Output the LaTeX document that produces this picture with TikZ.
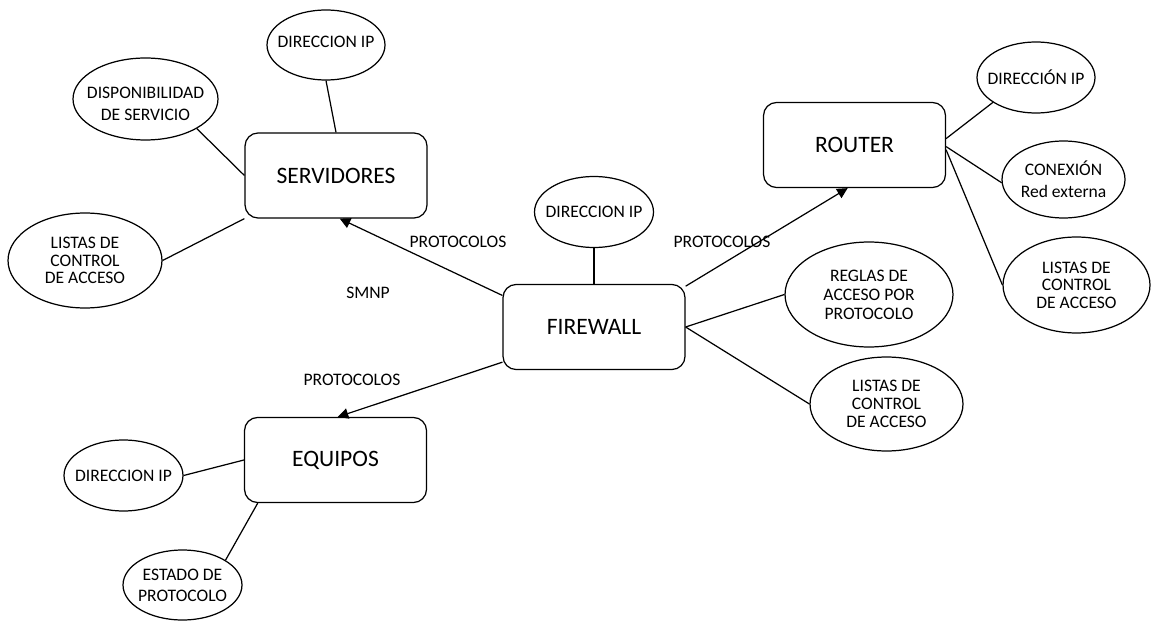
\documentclass[tikz,border=0pt]{standalone}
\usepackage{fontspec}
\setmainfont{Carlito}
\usetikzlibrary{shapes.geometric,arrows.meta}
\begin{document}
\begin{tikzpicture}[x=0.02cm,y=-0.02cm,
  box/.style={draw, rounded corners=0.26cm, minimum width=3.64cm, minimum height=1.70cm,
    font=\fontsize{13.4}{16}\selectfont, line width=0.7pt},
  oval/.style 2 args={draw, ellipse, inner sep=0pt, minimum width=#1, minimum height=#2, line width=0.7pt},
  txt/.style={align=center, font=\fontsize{10}{#1}\selectfont}, txt/.default=10.5,
  link/.style={line width=0.7pt},
  flow/.style={link, -{Triangle[length=6pt,width=6pt]}},
  tag/.style={font=\fontsize{10}{12}\selectfont}
]
\path[fill=white, use as bounding box] (0,0) rectangle (1151,621);

% main devices
\node[box] (srv) at (336,175.5) {SERVIDORES};
\node[box] (rtr) at (854.5,145) {ROUTER};
\node[box] (fw)  at (594,327) {FIREWALL};
\node[box] (eq)  at (335.5,460) {EQUIPOS};

% attributes of the servers
\node[oval={2.36cm}{1.40cm}, label={[txt, yshift=1.7pt]center:DIRECCION IP}] (ipS) at (326,45) {};
\node[oval={2.90cm}{1.64cm}, label={[txt=12.3, yshift=-2.8pt]center:DISPONIBILIDAD\\DE SERVICIO}] (disp) at (145.5,99) {};
\node[oval={3.08cm}{1.90cm}, label={[txt=10]center:LISTAS DE\\CONTROL\\DE ACCESO}] (aclS) at (85,260.5) {};

% attributes of the router
\node[oval={2.36cm}{1.42cm}, label={[txt]center:DIRECCIÓN IP}] (ipR) at (1036,77.5) {};
\node[oval={2.46cm}{1.54cm}, label={[txt=12.4]center:CONEXIÓN\\Red externa}] (conx) at (1063.5,179.5) {};
\node[oval={2.94cm}{1.92cm}, label={[txt=10]center:LISTAS DE\\CONTROL\\DE ACCESO}] (aclR) at (1076.5,285) {};

% attributes of the firewall
\node[oval={2.38cm}{1.42cm}, label={[txt]center:DIRECCION IP}] (ipF) at (594,212) {};
\node[oval={3.36cm}{2.10cm}, label={[txt=10.8]center:REGLAS DE\\ACCESO POR\\PROTOCOLO}] (regl) at (869,294.5) {};
\node[oval={3.06cm}{1.88cm}, label={[txt=10.4]center:LISTAS DE\\CONTROL\\DE ACCESO}] (aclF) at (886.5,404) {};

% attributes of the hosts
\node[oval={2.38cm}{1.42cm}, label={[txt]center:DIRECCION IP}] (ipE) at (123.5,475.5) {};
\node[oval={2.38cm}{1.40cm}, label={[txt=12]center:ESTADO DE\\PROTOCOLO}] (est) at (182.5,585) {};

% plain links
\draw[link] (ipS.south) -- (srv.north);
\draw[link] (disp.-30) -- (srv.west);
\draw[link] (aclS.east) -- (srv.south west);
\draw[link] (ipR.210) -- (rtr.4);
\draw[link] (conx.183) -- (rtr.-1);
\draw[link] (aclR.west) -- (rtr.-3);
\draw[link] (ipF.south) -- (fw.north);
\draw[link] (fw.east) -- (regl.west);
\draw[link] (fw.east) -- (aclF.west);
\draw[link] (ipE.east) -- (eq.west);
\draw[link] (est.30) -- (eq.209);

% protocol flows
\draw[flow] (fw.161) -- (srv.-85);
\draw[flow] (fw.24) -- (rtr.261);
\draw[flow] (fw.201) -- (eq.87);

\node[tag] (pS) at (458,242) {PROTOCOLOS};
\node[tag] (pR) at (722,242) {PROTOCOLOS};
\node[tag] (pE) at (352,380) {PROTOCOLOS};
\node[tag] (smnp) at (368,293) {SMNP};
\end{tikzpicture}
\end{document}
